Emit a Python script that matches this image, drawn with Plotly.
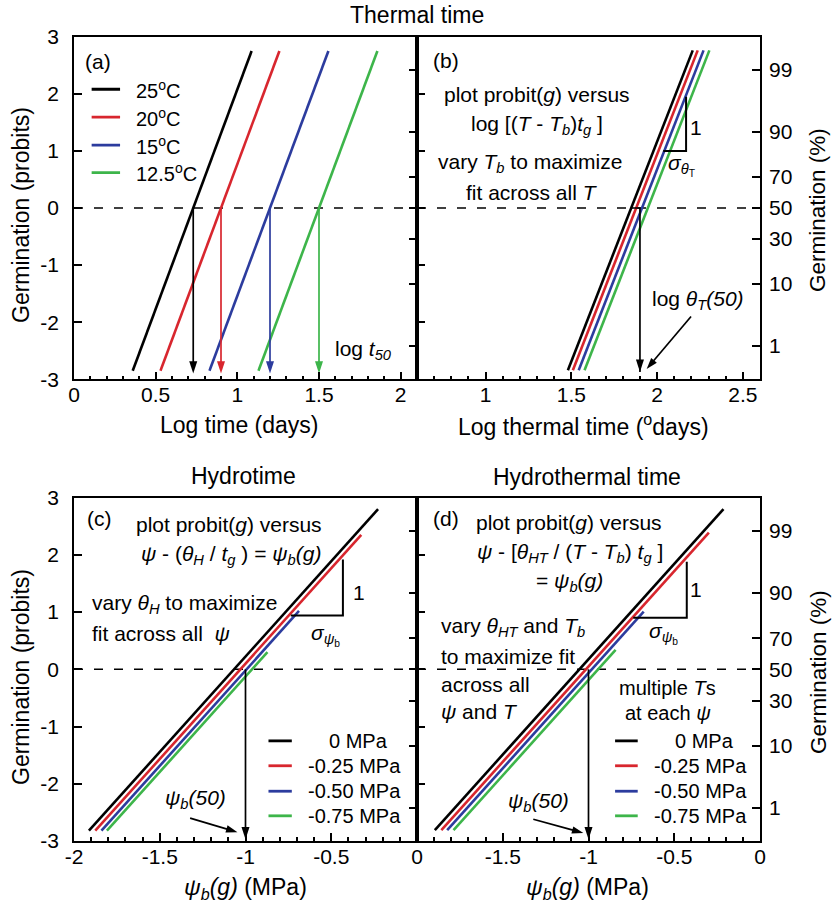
import plotly.graph_objects as go
from statistics import NormalDist

FONT = "Liberation Sans, Arial, Helvetica, sans-serif"
W, H = 832, 903

# ---------------- data ----------------
series_colors = ["#000000", "#d8262e", "#2c3c9e", "#3db54a"]

# (a) thermal time: probit lines vs log time at four temperatures
temp_labels = ["25<sup>o</sup>C", "20<sup>o</sup>C", "15<sup>o</sup>C", "12.5<sup>o</sup>C"]
log_t50 = [0.73, 0.90, 1.20, 1.50]
sigma_log_t = 0.13
probit_lo_a = -2.85
probit_hi_a = 2.75
arrow_tip_a = -2.9

# (b) probits vs log thermal time after normalising by (T - Tb)
log_theta_T = [1.849, 1.878, 1.912, 1.946]
log_theta_T50 = 1.90
probit_lo_b = -2.84
probit_hi_b = 2.76
slope_tri_b = [2.036, 2.169, 1.00, 1.95]  # x_left, x_right, y_bottom, y_top

# (c) hydrotime: probits vs psi_b(g) at four water potentials
psi_labels = ["0 MPa", "-0.25 MPa", "-0.50 MPa", "-0.75 MPa"]
psi_b50_c = [-1.067, -1.030, -0.994, -0.962]
sigma_psi = 0.30
probit_lo_c = -2.82
probit_hi_c = [2.80, 2.35, 1.02, 0.30]
slope_tri_c = [-0.736, -0.432, 0.94, 1.92]

# (d) hydrothermal time
psi_b50_d = [-1.053, -1.015, -0.981, -0.944]
probit_lo_d = -2.81
probit_hi_d = [2.80, 2.39, 1.01, 0.34]
slope_tri_d = [-0.739, -0.427, 0.90, 1.88]

psi_b50 = -1.0

# axis ticks
probit_ticks = [-3, -2, -1, 0, 1, 2, 3]
probit_tick_text = ["-3", "-2", "-1", "0", "1", "2", "3"]
pct_ticks = [1, 10, 30, 50, 70, 90, 99]
pct_probit_range = 2.885
logt_ticks = [0, 0.5, 1, 1.5, 2]
logt_tick_text = ["0", "0.5", "1", "1.5", "2"]
logtt_ticks = [1, 1.5, 2, 2.5]
logtt_tick_text = ["1", "1.5", "2", "2.5"]
psi_ticks_c = [-2, -1.5, -1, -0.5, 0]
psi_tick_text_c = ["-2", "-1.5", "-1", "-0.5", "0"]
psi_ticks_d = [-1.5, -1, -0.5, 0]
psi_tick_text_d = ["-1.5", "-1", "-0.5", "0"]

# ---------------- layout helpers ----------------
def px_x(p):
    return p / W


def px_y(p):
    return 1 - p / H


dom_x_left = [px_x(74), px_x(417)]
dom_x_right = [px_x(417), px_x(760)]
dom_y_top = [px_y(379.3), px_y(36.7)]
dom_y_bot = [px_y(841), px_y(497.7)]

tick_font = dict(family=FONT, size=21, color="black")


def x_axis(domain, rng, vals, text, anchor):
    return dict(
        domain=domain, range=rng, anchor=anchor, automargin=False,
        tickmode="array", tickvals=vals, ticktext=text,
        ticks="inside", ticklen=8, tickwidth=1.5, tickcolor="black",
        minor=dict(dtick=0.1, tick0=0, ticks="inside", ticklen=4,
                   tickwidth=1.5, tickcolor="black", showgrid=False),
        showline=True, linecolor="black", linewidth=1.6, mirror=True,
        showgrid=False, zeroline=False, tickfont=tick_font,
        ticklabelstandoff=-4, fixedrange=True,
    )


def y_axis(domain, anchor, labels):
    return dict(
        domain=domain, range=[-3, 3], anchor=anchor, automargin=False,
        tickmode="array", tickvals=probit_ticks, ticktext=probit_tick_text,
        ticks="inside", ticklen=8, tickwidth=1.5, tickcolor="black",
        showticklabels=labels,
        showline=True, linecolor="black", linewidth=1.6, mirror=True,
        showgrid=False, zeroline=False, tickfont=tick_font,
        ticklabelstandoff=9, fixedrange=True,
    )


def pct_axis(over, anchor, labels):
    nd = NormalDist()
    return dict(
        overlaying=over, anchor=anchor, side="right", automargin=False,
        range=[-pct_probit_range, pct_probit_range],
        tickmode="array", tickvals=[nd.inv_cdf(p / 100) for p in pct_ticks],
        ticktext=[str(p) for p in pct_ticks],
        ticks="inside", ticklen=8, tickwidth=1.5, tickcolor="black",
        showticklabels=labels, showline=False,
        showgrid=False, zeroline=False, tickfont=tick_font,
        ticklabelstandoff=8, fixedrange=True,
    )


fig = go.Figure()


def add_line(x, y, color, xa, ya, width=2.6):
    fig.add_trace(go.Scatter(x=x, y=y, mode="lines", xaxis=xa, yaxis=ya,
                             line=dict(color=color, width=width),
                             hoverinfo="skip", showlegend=False))


def add_arrow(x, y, xa, ya, color="black", size=13, width=1.7):
    sizes = [0] * (len(x) - 1) + [size]
    fig.add_trace(go.Scatter(
        x=x, y=y, mode="lines+markers", xaxis=xa, yaxis=ya,
        line=dict(color=color, width=width),
        marker=dict(symbol="arrow", angleref="previous", size=sizes,
                    color=color, opacity=1, line=dict(width=0)),
        hoverinfo="skip", showlegend=False))


def add_tri(tri, xa, ya):
    xl, xr, yb, yt = tri
    add_line([xl, xr, xr], [yb, yb, yt], "black", xa, ya, width=2)


# invisible anchors so the percent axes get their own overlay subplots
for xa, ya in [("x", "y5"), ("x2", "y6"), ("x3", "y7"), ("x4", "y8")]:
    fig.add_trace(go.Scatter(x=[None], y=[None], xaxis=xa, yaxis=ya,
                             mode="lines", showlegend=False, hoverinfo="skip"))

# ---- (a)
for c, col in zip(log_t50, series_colors):
    add_line([c + sigma_log_t * probit_lo_a, c + sigma_log_t * probit_hi_a],
             [probit_lo_a, probit_hi_a], col, "x", "y")
for c, col in zip(log_t50, series_colors):
    add_arrow([c, c], [0, arrow_tip_a], "x", "y", color=col)
leg_y_a = [2.08, 1.59, 1.10, 0.62]
for yy, col in zip(leg_y_a, series_colors):
    add_line([0.108, 0.282], [yy, yy], col, "x", "y", width=2.8)

# ---- (b)
for c, col in zip(log_theta_T, series_colors):
    add_line([c + sigma_log_t * probit_lo_b, c + sigma_log_t * probit_hi_b],
             [probit_lo_b, probit_hi_b], col, "x2", "y2")
add_arrow([log_theta_T[0], log_theta_T50, log_theta_T50], [0, 0, -2.87], "x2", "y2")
add_arrow([2.198, 1.939], [-1.90, -2.82], "x2", "y2", size=12, width=1.7)
add_tri(slope_tri_b, "x2", "y2")

# ---- (c)
for c, hi, col in zip(psi_b50_c, probit_hi_c, series_colors):
    add_line([c + sigma_psi * probit_lo_c, c + sigma_psi * hi],
             [probit_lo_c, hi], col, "x3", "y3")
add_arrow([psi_b50, psi_b50], [0, -2.97], "x3", "y3")
add_arrow([-1.323, -1.047], [-2.60, -2.845], "x3", "y3", size=12)
add_tri(slope_tri_c, "x3", "y3")
leg_y_c = [-1.25, -1.685, -2.13, -2.56]
for yy, col in zip(leg_y_c, series_colors):
    add_line([-0.866, -0.730], [yy, yy], col, "x3", "y3", width=2.8)

# ---- (d)
for c, hi, col in zip(psi_b50_d, probit_hi_d, series_colors):
    add_line([c + sigma_psi * probit_lo_d, c + sigma_psi * hi],
             [probit_lo_d, hi], col, "x4", "y4")
add_arrow([psi_b50, psi_b50], [0, -2.97], "x4", "y4")
add_arrow([-1.322, -1.03], [-2.62, -2.86], "x4", "y4", size=12)
add_tri(slope_tri_d, "x4", "y4")
for yy, col in zip(leg_y_c, series_colors):
    add_line([-0.845, -0.713], [yy, yy], col, "x4", "y4", width=2.8)

# ---------------- text ----------------
ann = []


def txt(x, y, s, xr, yr, size=21, xanchor="center", angle=0):
    ann.append(dict(x=x, y=y, xref=xr, yref=yr, text=s, showarrow=False,
                    xanchor=xanchor, yanchor="middle", textangle=angle,
                    font=dict(family=FONT, size=size, color="black")))


# panel titles and axis titles (paper coordinates)
txt(px_x(417), px_y(15), "Thermal time", "paper", "paper", size=23)
txt(px_x(243), px_y(476), "Hydrotime", "paper", "paper", size=23)
txt(px_x(587), px_y(477), "Hydrothermal time", "paper", "paper", size=23)
txt(px_x(240), px_y(425), "Log time (days)", "paper", "paper", size=23)
txt(px_x(583), px_y(425), "Log thermal time (<sup>o</sup>days)", "paper", "paper", size=23)
txt(px_x(245), px_y(888), "<i>ψ<sub>b</sub>(g)</i> (MPa)", "paper", "paper", size=23)
txt(px_x(587), px_y(888), "<i>ψ<sub>b</sub>(g)</i> (MPa)", "paper", "paper", size=23)
txt(px_x(21), px_y(215), "Germination (probits)", "paper", "paper", size=23, angle=-90)
txt(px_x(21), px_y(677), "Germination (probits)", "paper", "paper", size=23, angle=-90)
txt(px_x(818), px_y(210), "Germination (%)", "paper", "paper", size=22.5, angle=-90)
txt(px_x(818), px_y(672), "Germination (%)", "paper", "paper", size=22.5, angle=-90)

# (a)
txt(0.055, 2.57, "(a)", "x", "y", xanchor="left")
for yy, lab in zip(leg_y_a, temp_labels):
    txt(0.367, yy, lab, "x", "y", size=20, xanchor="left")
txt(1.775, -2.49, "log <i>t</i><sub><i>50</i></sub>", "x", "y")

# (b)
txt(0.68, 2.59, "(b)", "x2", "y2", xanchor="left")
txt(1.298, 1.99, "plot probit(<i>g</i>) versus", "x2", "y2")
txt(1.298, 1.46, "log [(<i>T</i> - <i>T</i><sub><i>b</i></sub>)<i>t</i><sub><i>g</i></sub> ]", "x2", "y2")
txt(1.259, 0.78, "vary <i>T</i><sub><i>b</i></sub> to maximize", "x2", "y2")
txt(1.269, 0.27, "fit across all <i>T</i>", "x2", "y2")
txt(2.227, 1.41, "1", "x2", "y2")
txt(2.143, 0.76, "<i>σ</i><sub><i>θ</i><sub>T</sub></sub>", "x2", "y2")
txt(2.236, -1.61, "log <i>θ</i><sub><i>T</i></sub><i>(50)</i>", "x2", "y2")

# (c)
txt(-1.936, 2.64, "(c)", "x3", "y3", xanchor="left")
txt(-1.094, 2.53, "plot probit(<i>g</i>) versus", "x3", "y3")
txt(-1.085, 1.99, "<i>ψ</i> - (<i>θ</i><sub><i>H</i></sub> / <i>t</i><sub><i>g</i></sub> ) = <i>ψ</i><sub><i>b</i></sub><i>(g)</i>", "x3", "y3")
txt(-1.907, 1.15, "vary <i>θ</i><sub><i>H</i></sub> to maximize", "x3", "y3", xanchor="left")
txt(-1.907, 0.63, "fit across all  <i>ψ</i>", "x3", "y3", xanchor="left")
txt(-0.341, 1.35, "1", "x3", "y3")
txt(-0.536, 0.60, "<i>σ</i><sub><i>ψ</i><sub>b</sub></sub>", "x3", "y3")
txt(-1.294, -2.26, "<i>ψ</i><sub><i>b</i></sub><i>(50)</i>", "x3", "y3")
leg_x_c = [-0.526, -0.646, -0.646, -0.646]
for xx, yy, lab in zip(leg_x_c, leg_y_c, psi_labels):
    txt(xx, yy, lab, "x3", "y3", size=20, xanchor="left")

# (d)
txt(-1.92, 2.64, "(d)", "x4", "y4", xanchor="left")
txt(-1.112, 2.56, "plot probit(<i>g</i>) versus", "x4", "y4")
txt(-1.108, 2.04, "<i>ψ</i> - [<i>θ</i><sub><i>HT</i></sub> / (<i>T</i> - <i>T</i><sub><i>b</i></sub>) <i>t</i><sub><i>g</i></sub> ]", "x4", "y4")
txt(-1.108, 1.52, "= <i>ψ</i><sub><i>b</i></sub><i>(g)</i>", "x4", "y4")
txt(-0.373, 1.39, "1", "x4", "y4")
txt(-0.564, 0.63, "<i>σ</i><sub><i>ψ</i><sub>b</sub></sub>", "x4", "y4")
txt(-1.87, 0.745, "vary <i>θ</i><sub><i>HT</i></sub> and <i>T</i><sub><i>b</i></sub>", "x4", "y4", xanchor="left")
txt(-1.87, 0.22, "to maximize fit", "x4", "y4", xanchor="left")
txt(-1.87, -0.26, "across all", "x4", "y4", xanchor="left")
txt(-1.87, -0.74, "<i>ψ</i> and <i>T</i>", "x4", "y4", xanchor="left")
txt(-0.538, -0.33, "multiple <i>T</i>s", "x4", "y4", size=20)
txt(-0.538, -0.77, "at each <i>ψ</i>", "x4", "y4", size=20)
txt(-1.293, -2.31, "<i>ψ</i><sub><i>b</i></sub><i>(50)</i>", "x4", "y4")
leg_x_d = [-0.505, -0.631, -0.631, -0.631]
for xx, yy, lab in zip(leg_x_d, leg_y_c, psi_labels):
    txt(xx, yy, lab, "x4", "y4", size=20, xanchor="left")

# dashed 50 % reference lines
shapes = []
for xr, yr in [("x", "y"), ("x2", "y2"), ("x3", "y3"), ("x4", "y4")]:
    shapes.append(dict(type="line", xref=f"{xr} domain", yref=yr, x0=0, x1=1,
                       y0=0, y1=0, line=dict(color="black", width=1.5, dash="9px,11px"),
                       layer="below"))

fig.update_layout(
    template="none",
    width=W, height=H, margin=dict(l=0, r=0, t=0, b=0, autoexpand=False),
    paper_bgcolor="white", plot_bgcolor="white", showlegend=False,
    font=dict(family=FONT, color="black"),
    xaxis=x_axis(dom_x_left, [0, 2.1], logt_ticks, logt_tick_text, "y"),
    xaxis2=x_axis(dom_x_right, [0.6, 2.6], logtt_ticks, logtt_tick_text, "y2"),
    xaxis3=x_axis(dom_x_left, [-2, 0], psi_ticks_c, psi_tick_text_c, "y3"),
    xaxis4=x_axis(dom_x_right, [-2, 0], psi_ticks_d, psi_tick_text_d, "y4"),
    yaxis=y_axis(dom_y_top, "x", True),
    yaxis2=y_axis(dom_y_top, "x2", False),
    yaxis3=y_axis(dom_y_bot, "x3", True),
    yaxis4=y_axis(dom_y_bot, "x4", False),
    yaxis5=pct_axis("y", "x", False),
    yaxis6=pct_axis("y2", "x2", True),
    yaxis7=pct_axis("y3", "x3", False),
    yaxis8=pct_axis("y4", "x4", True),
    annotations=ann, shapes=shapes,
)

fig.write_html("out.html")
